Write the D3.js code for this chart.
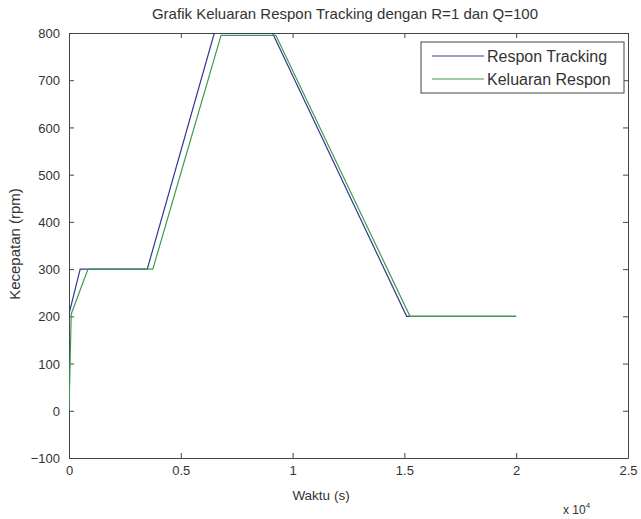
<!DOCTYPE html>
<html>
<head>
<meta charset="utf-8">
<script src="https://cdn.jsdelivr.net/npm/d3@7"></script>
<style>
  body { margin: 0; background: #fff; }
  text { font-family: "Liberation Sans", Arial, sans-serif; fill: #333; }
</style>
</head>
<body>
<div id="chart"></div>
<script>
// data (time in seconds, speed in rpm)
var trackingT = [0, 500, 3500, 6500, 9100, 15100, 20000];
var trackingV = [205, 300, 300, 800, 800, 200, 200];
var outputT = [0, 100, 850, 3750, 6800, 9250, 15250, 20000];
var outputV = [0, 205, 300, 300, 795, 795, 200, 200];
var xTicks = [0, 5000, 10000, 15000, 20000, 25000];
var xTickLabels = ["0", "0.5", "1", "1.5", "2", "2.5"];
var yTicks = [-100, 0, 100, 200, 300, 400, 500, 600, 700, 800];
var seriesNames = ["Respon Tracking", "Keluaran Respon"];
var seriesColors = ["#33378f", "#3f9a50"];

var w = 641, h = 519,
    margin = {top: 33, right: 13, bottom: 61, left: 69};
var width = w - margin.left - margin.right,
    height = h - margin.top - margin.bottom;

var svg = d3.select("#chart").append("svg")
    .attr("width", w)
    .attr("height", h);

var chart = svg.append("g")
    .attr("transform", "translate(" + margin.left + "," + margin.top + ")");

var x = d3.scaleLinear().domain([0, 25000]).range([0, width]),
    y = d3.scaleLinear().domain([-100, 800]).range([height, 0]);

chart.append("defs").append("clipPath").attr("id", "plotclip")
    .append("rect").attr("width", width).attr("height", height);

// axes with inward ticks, box all around like matlab
var fontSize = 13;
var bottomAxis = d3.axisBottom(x).tickValues(xTicks)
    .tickFormat(function (d, i) { return xTickLabels[i]; })
    .tickSizeInner(-5).tickSizeOuter(0).tickPadding(8);
var leftAxis = d3.axisLeft(y).tickValues(yTicks)
    .tickSizeInner(-5).tickSizeOuter(0).tickPadding(9);

var gx = chart.append("g")
    .attr("transform", "translate(0," + height + ")")
    .call(bottomAxis);
var gy = chart.append("g").call(leftAxis);

chart.append("g").call(d3.axisTop(x).tickValues(xTicks).tickFormat("").tickSizeInner(-5).tickSizeOuter(0));
chart.append("g").attr("transform", "translate(" + width + ",0)")
    .call(d3.axisRight(y).tickValues(yTicks).tickFormat("").tickSizeInner(-5).tickSizeOuter(0));

chart.selectAll(".domain").attr("stroke", "#444");
chart.selectAll(".tick line").attr("stroke", "#444");
chart.selectAll(".tick text").style("font-size", fontSize + "px").style("fill", "#333");
gy.selectAll(".tick text").attr("dy", "0.35em");

// lines
var line = d3.line()
    .x(function (d) { return x(d[0]); })
    .y(function (d) { return y(d[1]); });

var series = [
    d3.zip(trackingT, trackingV),
    d3.zip(outputT, outputV)
];

chart.append("g").attr("clip-path", "url(#plotclip)")
    .selectAll("path.series")
    .data(series)
    .enter()
    .append("path")
    .classed("series", true)
    .attr("fill", "none")
    .attr("stroke-width", 1.2)
    .attr("stroke", function (d, i) { return seriesColors[i]; })
    .attr("d", line);

// title and labels
svg.append("text")
    .attr("x", 345)
    .attr("y", 19)
    .attr("text-anchor", "middle")
    .style("font-size", "15px")
    .text("Grafik Keluaran Respon Tracking dengan R=1 dan Q=100");

svg.append("text")
    .attr("x", 321)
    .attr("y", 500)
    .attr("text-anchor", "middle")
    .style("font-size", "13.5px")
    .text("Waktu (s)");

svg.append("text")
    .attr("transform", "translate(20," + 244 + ") rotate(-90)")
    .attr("text-anchor", "middle")
    .style("font-size", "15px")
    .text("Kecepatan (rpm)");

var exp = svg.append("text")
    .attr("x", 563)
    .attr("y", 514)
    .style("font-size", "12px")
    .text("x 10");
exp.append("tspan")
    .attr("dy", -6)
    .style("font-size", "8px")
    .text("4");

// legend
var legend = chart.append("g")
    .attr("transform", "translate(" + (421 - margin.left) + "," + (42 - margin.top) + ")");
legend.append("rect")
    .attr("width", 203)
    .attr("height", 51)
    .attr("fill", "#fff")
    .attr("stroke", "#444");
seriesNames.forEach(function (name, i) {
    var row = legend.append("g").attr("transform", "translate(0," + (14 + i * 23) + ")");
    row.append("line")
        .attr("x1", 11).attr("x2", 63)
        .attr("stroke", seriesColors[i])
        .attr("stroke-width", 1.2);
    row.append("text")
        .attr("x", 66)
        .attr("dy", "0.35em")
        .style("font-size", "16px")
        .text(name);
});
</script>
</body>
</html>
